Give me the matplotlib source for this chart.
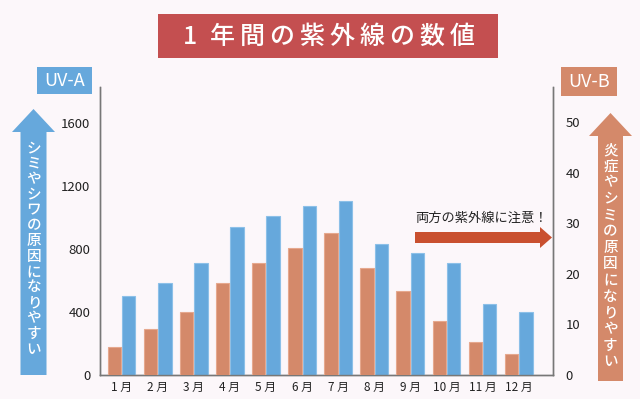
import matplotlib
matplotlib.use("Agg")
import matplotlib.pyplot as plt
from matplotlib.patches import Polygon, Rectangle
import numpy as np

plt.rcParams['font.family'] = ['Noto Sans CJK JP', 'DejaVu Sans']

months = ["1 月", "2 月", "3 月", "4 月", "5 月", "6 月", "7 月", "8 月", "9 月", "10 月", "11 月", "12 月"]
uva = [500, 580, 710, 940, 1010, 1070, 1100, 830, 770, 710, 450, 400]
uvb = [5.5, 9.1, 12.4, 18.3, 22.1, 25.1, 28.2, 21.1, 16.7, 10.7, 6.5, 4.1]
uva_ticks = [0, 400, 800, 1200, 1600]
uvb_ticks = [0, 10, 20, 30, 40, 50]

title_chars = ["1", "年", "間", "の", "紫", "外", "線", "の", "数", "値"]
left_arrow_text = "シミやシワの原因になりやすい"
right_arrow_text = "炎症やシミの原因になりやすい"
note_text = "両方の紫外線に注意！"

BG = '#fcf7fa'
BLUE = '#66a8dc'
ORANGE = '#d4896a'
RED = '#c44f50'
NOTE = '#c9502f'
SPINE = '#777777'

W, H = 640, 399
fig = plt.figure(figsize=(6.4, 3.99), dpi=100, facecolor=BG)

def fx(px):
    return px / W

def fy(py):
    return 1 - py / H

ax = fig.add_axes([fx(100), fy(375), (553 - 100) / W, (375 - 87) / H])
ax.set_facecolor(BG)
ax2 = ax.twinx()

x = np.arange(len(months))
bw = 0.37
ax.bar(x + 0.2, uva, width=bw, color=BLUE, edgecolor='#8cc0e8', linewidth=0.8, zorder=3)
ax2.bar(x - 0.2, uvb, width=bw, color=ORANGE, edgecolor='#e6a88e', linewidth=0.8, zorder=3)

ax.set_xlim(-0.596, 11.95)
ax.set_ylim(0, 1825)
ax2.set_ylim(0, 57)

ax.set_yticks(uva_ticks)
ax.set_yticklabels([str(v) for v in uva_ticks], fontsize=9.5, color='#222222')
ax2.set_yticks(uvb_ticks)
ax2.set_yticklabels([str(v) for v in uvb_ticks], fontsize=9.5, color='#222222')
ax.set_xticks(x)
ax.set_xticklabels(months, fontsize=8.5, color='#222222')

ax.tick_params(axis='y', length=0, pad=7)
ax2.tick_params(axis='y', length=0, pad=9)
ax.tick_params(axis='x', length=0, pad=4)

for a in (ax, ax2):
    a.spines['top'].set_visible(False)
    for s in ('left', 'right', 'bottom'):
        a.spines[s].set_color(SPINE)
        a.spines[s].set_linewidth(1.0)

# Title box
fig.patches.append(Rectangle((fx(158), fy(58)), (498 - 158) / W, (58 - 14) / H,
                             transform=fig.transFigure, facecolor=RED, edgecolor='none'))
title_x = [190] + [222 + 30 * k for k in range(9)]
for cx, ch in zip(title_x, title_chars):
    fig.text(fx(cx), fy(37), ch, ha='center', va='center', fontsize=18,
             fontweight='medium', color='white')

# UV-A / UV-B label boxes
fig.patches.append(Rectangle((fx(37), fy(94)), 55 / W, 27 / H, transform=fig.transFigure,
                             facecolor=BLUE, edgecolor='none'))
fig.text(fx(64.5), fy(81), "UV-A", ha='center', va='center', fontsize=13, color='white')
fig.patches.append(Rectangle((fx(561), fy(96)), 56 / W, 29 / H, transform=fig.transFigure,
                             facecolor=ORANGE, edgecolor='none'))
fig.text(fx(589), fy(82), "UV-B", ha='center', va='center', fontsize=13, color='white')

# Vertical arrows
def up_arrow(cx, tip, head_base, head_half, shaft_half, bottom, color):
    pts = [(cx, tip), (cx + head_half, head_base), (cx + shaft_half, head_base),
           (cx + shaft_half, bottom), (cx - shaft_half, bottom), (cx - shaft_half, head_base),
           (cx - head_half, head_base)]
    fig.patches.append(Polygon([(fx(px), fy(py)) for px, py in pts], closed=True,
                               transform=fig.transFigure, facecolor=color, edgecolor='none'))

up_arrow(33.5, 109, 132, 21.5, 13, 375, BLUE)
up_arrow(610.5, 113, 136, 21.5, 12.5, 381, ORANGE)

for i, ch in enumerate(left_arrow_text):
    fig.text(fx(34), fy(148 + 15.5 * i), ch, ha='center', va='center', fontsize=10.5,
             fontweight='medium', color='white')
for i, ch in enumerate(right_arrow_text):
    fig.text(fx(610.5), fy(150 + 16.3 * i), ch, ha='center', va='center', fontsize=10.5,
             fontweight='medium', color='white')

# Horizontal note arrow
pts = [(415, 232), (540, 232), (540, 227), (552, 237.5), (540, 248), (540, 243), (415, 243)]
fig.patches.append(Polygon([(fx(px), fy(py)) for px, py in pts], closed=True,
                           transform=fig.transFigure, facecolor=NOTE, edgecolor='none'))
fig.text(fx(481), fy(218), note_text, ha='center', va='center', fontsize=9.5, color='#222222')

fig.savefig("out.png", dpi=100, facecolor=BG)
